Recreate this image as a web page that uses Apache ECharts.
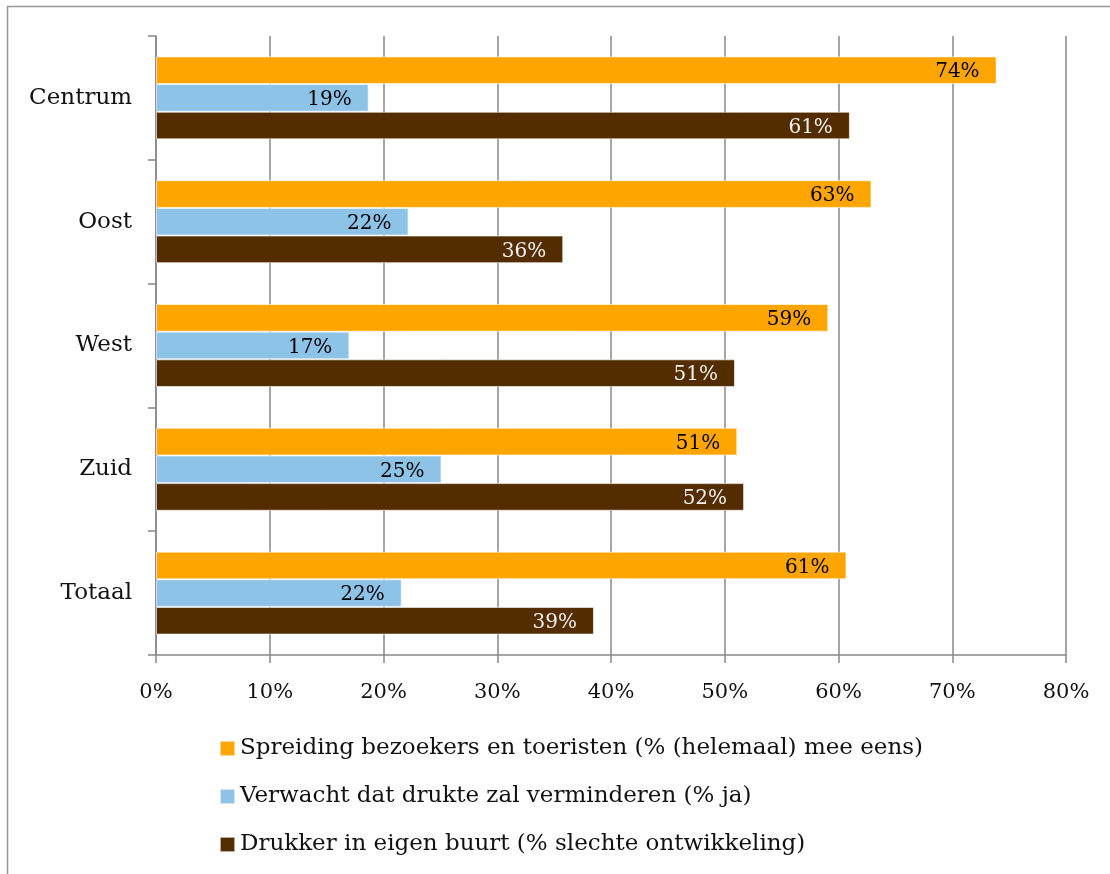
<!DOCTYPE html>
<html><head><meta charset="utf-8">
<script src="https://cdn.jsdelivr.net/npm/echarts@6/dist/echarts.min.js"></script>
<style>html,body{margin:0;padding:0;background:#fff}#c{width:1110px;height:874px}</style>
</head><body><div id="c"></div>
<script>
const categories = ['Centrum', 'Oost', 'West', 'Zuid', 'Totaal'];
const seriesNames = [
  'Spreiding bezoekers en toeristen (% (helemaal) mee eens)',
  'Verwacht dat drukte zal verminderen (% ja)',
  'Drukker in eigen buurt (% slechte ontwikkeling)'
];
const spreiding = [73.9, 62.9, 59.1, 51.1, 60.7];
const verwacht = [18.7, 22.2, 17.0, 25.1, 21.6];
const drukker = [61.0, 35.8, 50.9, 51.7, 38.5];
const xTicks = [0, 10, 20, 30, 40, 50, 60, 70, 80];

const FONT = '"DejaVu Serif", "Liberation Serif", serif';
const colors = ['#FFA500', '#8EC3E8', '#532C00'];
const labelColors = ['#000', '#000', '#f2f2f2'];
const datasets = [spreiding, verwacht, drukker];

const chart = echarts.init(document.getElementById('c'));
chart.setOption({
  animation: false,
  textStyle: { fontFamily: FONT },
  graphic: [{ type: 'rect', shape: { x: 7.5, y: 6.5, width: 1200, height: 1000 }, style: { fill: 'none', stroke: '#999', lineWidth: 1.5 }, silent: true }],
  grid: { left: 156, top: 36, right: 44, bottom: 219, containLabel: false },
  legend: {
    orient: 'vertical', left: 214, top: 732, itemGap: 25, itemWidth: 15, itemHeight: 15,
    icon: 'rect', textStyle: { fontFamily: FONT, fontSize: 23, color: '#111' },
    data: seriesNames
  },
  xAxis: {
    type: 'value', min: 0, max: 80, interval: 10,
    axisLine: { show: true, lineStyle: { color: '#888', width: 1.5 } },
    axisTick: { show: true, length: 8, lineStyle: { color: '#888', width: 1.5 } },
    splitLine: { show: true, lineStyle: { color: '#888', width: 1.5 } },
    axisLabel: { formatter: v => xTicks.includes(v) ? v + '%' : '', fontFamily: FONT, fontSize: 21, color: '#111', margin: 27 }
  },
  yAxis: {
    type: 'category', inverse: true, data: categories,
    axisLine: { show: true, lineStyle: { color: '#888', width: 1.5 } },
    axisTick: { show: true, length: 8, lineStyle: { color: '#888', width: 1.5 } },
    axisLabel: { fontFamily: FONT, fontSize: 23, color: '#111', margin: 24 }
  },
  series: datasets.map((d, i) => ({
    name: seriesNames[i], type: 'bar', data: d,
    barGap: '0%', barCategoryGap: '33%',
    itemStyle: { color: colors[i], borderColor: 'rgba(255,255,255,0.6)', borderWidth: 1 },
    label: {
      show: true, position: 'insideRight', distance: 17, offset: [0, 2],
      formatter: p => Math.round(p.value) + '%',
      fontFamily: FONT, fontSize: 20, color: labelColors[i]
    }
  }))
});
</script></body></html>
